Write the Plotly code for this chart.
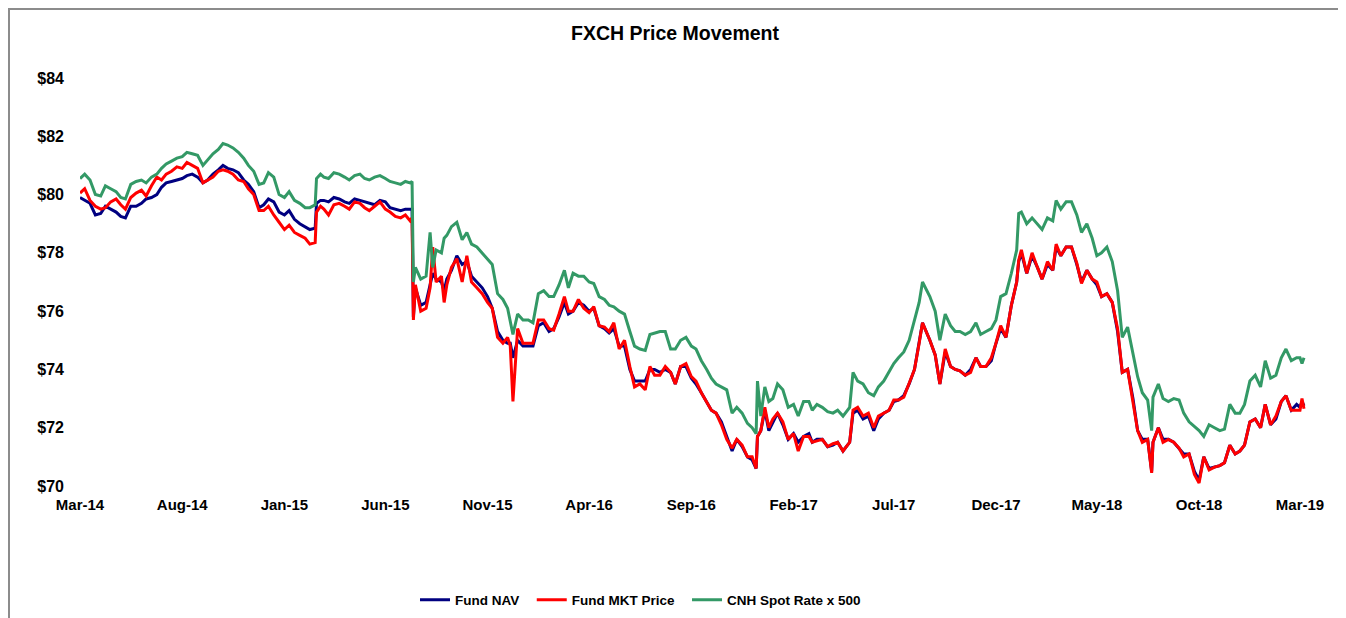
import plotly.graph_objects as go

# ---- data ----
dates = [
    "2014-03-01", "2014-03-08", "2014-03-16", "2014-03-24",
    "2014-04-01", "2014-04-08", "2014-04-16", "2014-04-24",
    "2014-05-01", "2014-05-08", "2014-05-16", "2014-05-24",
    "2014-06-01", "2014-06-08", "2014-06-16", "2014-06-24",
    "2014-07-01", "2014-07-08", "2014-07-16", "2014-07-24",
    "2014-08-01", "2014-08-08", "2014-08-16", "2014-08-24",
    "2014-09-01", "2014-09-08", "2014-09-16", "2014-09-24",
    "2014-10-01", "2014-10-08", "2014-10-16", "2014-10-24",
    "2014-11-01", "2014-11-08", "2014-11-16", "2014-11-24",
    "2014-12-01", "2014-12-08", "2014-12-16", "2014-12-24",
    "2015-01-01", "2015-01-08", "2015-01-16", "2015-01-24",
    "2015-02-01", "2015-02-08", "2015-02-16", "2015-02-18", "2015-02-24",
    "2015-03-01", "2015-03-08", "2015-03-16", "2015-03-24",
    "2015-04-01", "2015-04-08", "2015-04-16", "2015-04-24",
    "2015-05-01", "2015-05-08", "2015-05-16", "2015-05-24",
    "2015-06-01", "2015-06-08", "2015-06-16", "2015-06-24",
    "2015-07-01", "2015-07-08", "2015-07-11", "2015-07-13", "2015-07-16", "2015-07-24",
    "2015-08-01", "2015-08-07", "2015-08-11", "2015-08-16", "2015-08-24", "2015-08-28",
    "2015-09-01", "2015-09-08", "2015-09-16", "2015-09-24",
    "2015-10-01", "2015-10-08", "2015-10-16", "2015-10-24",
    "2015-11-01", "2015-11-08", "2015-11-16", "2015-11-24",
    "2015-12-01", "2015-12-05", "2015-12-09", "2015-12-16", "2015-12-24",
    "2016-01-01", "2016-01-08", "2016-01-16", "2016-01-24",
    "2016-02-01", "2016-02-08", "2016-02-16", "2016-02-24",
    "2016-03-01", "2016-03-08", "2016-03-16", "2016-03-24",
    "2016-04-01", "2016-04-08", "2016-04-16", "2016-04-24",
    "2016-05-01", "2016-05-08", "2016-05-16", "2016-05-24",
    "2016-06-01", "2016-06-08", "2016-06-16", "2016-06-24",
    "2016-07-01", "2016-07-08", "2016-07-16", "2016-07-24",
    "2016-08-01", "2016-08-08", "2016-08-16", "2016-08-24",
    "2016-09-01", "2016-09-08", "2016-09-16", "2016-09-24",
    "2016-10-01", "2016-10-08", "2016-10-16", "2016-10-24",
    "2016-11-01", "2016-11-08", "2016-11-16", "2016-11-24",
    "2016-12-01", "2016-12-07", "2016-12-09", "2016-12-14", "2016-12-20", "2016-12-26",
    "2017-01-01", "2017-01-08", "2017-01-16", "2017-01-24",
    "2017-02-01", "2017-02-08", "2017-02-16", "2017-02-24",
    "2017-03-01", "2017-03-08", "2017-03-16", "2017-03-24",
    "2017-04-01", "2017-04-08", "2017-04-16", "2017-04-26",
    "2017-05-01", "2017-05-08", "2017-05-16", "2017-05-24",
    "2017-06-01", "2017-06-08", "2017-06-16", "2017-06-24",
    "2017-07-01", "2017-07-08", "2017-07-16", "2017-07-24",
    "2017-08-01", "2017-08-08", "2017-08-13", "2017-08-24",
    "2017-09-01", "2017-09-08", "2017-09-16", "2017-09-24",
    "2017-10-01", "2017-10-08", "2017-10-16", "2017-10-24",
    "2017-11-01", "2017-11-08", "2017-11-16", "2017-11-24",
    "2017-12-01", "2017-12-08", "2017-12-16", "2017-12-24",
    "2018-01-01", "2018-01-04", "2018-01-08", "2018-01-16", "2018-01-24",
    "2018-02-01", "2018-02-08", "2018-02-16", "2018-02-24",
    "2018-03-01", "2018-03-08", "2018-03-16", "2018-03-24",
    "2018-04-01", "2018-04-08", "2018-04-16", "2018-04-24",
    "2018-05-01", "2018-05-08", "2018-05-16", "2018-05-24",
    "2018-06-01", "2018-06-08", "2018-06-16", "2018-06-24",
    "2018-07-01", "2018-07-08", "2018-07-16", "2018-07-22", "2018-07-24",
    "2018-08-01", "2018-08-08", "2018-08-16", "2018-08-24",
    "2018-09-01", "2018-09-08", "2018-09-16", "2018-09-24",
    "2018-10-01", "2018-10-08", "2018-10-16", "2018-10-24",
    "2018-11-01", "2018-11-08", "2018-11-16", "2018-11-24",
    "2018-12-01", "2018-12-08", "2018-12-16", "2018-12-24",
    "2019-01-01", "2019-01-08", "2019-01-16", "2019-01-24",
    "2019-02-01", "2019-02-08", "2019-02-16", "2019-02-24",
    "2019-03-01", "2019-03-04", "2019-03-07",
]

cnh_spot_x500 = [
    80.55, 80.7, 80.5, 80.0,
    79.95, 80.3, 80.2, 80.1,
    79.9, 79.85, 80.35, 80.45,
    80.5, 80.4, 80.6, 80.7,
    80.9, 81.05, 81.15, 81.25,
    81.3, 81.45, 81.4, 81.35,
    81.0, 81.2, 81.4, 81.55,
    81.75, 81.7, 81.6, 81.45,
    81.25, 81.0, 80.8, 80.35,
    80.4, 80.75, 80.6, 80.0,
    79.9, 80.1, 79.8, 79.7,
    79.55, 79.55, 79.65, 80.55, 80.7,
    80.6, 80.55, 80.75, 80.7,
    80.6, 80.5, 80.65, 80.7,
    80.55, 80.5, 80.6, 80.65,
    80.55, 80.45, 80.4, 80.35,
    80.45, 80.4, 80.45, 77.0, 77.5, 77.1,
    77.2, 78.7, 77.5, 78.1, 78.0, 78.5,
    78.6, 78.9, 79.05, 78.45,
    78.7, 78.3, 78.2, 78.0,
    77.8, 77.6, 76.6, 76.4,
    76.1, 75.6, 75.2, 75.9, 75.7,
    75.7, 75.6, 76.6, 76.7,
    76.5, 76.5, 76.9, 77.4,
    76.8, 77.3, 77.2, 77.2,
    77.0, 76.95, 76.5, 76.4,
    76.2, 76.15, 76.0, 75.9,
    75.3, 74.8, 74.7, 74.65,
    75.2, 75.25, 75.3, 75.3,
    74.7, 74.7, 75.0, 75.1,
    74.8, 74.7, 74.3, 74.0,
    73.7, 73.5, 73.4, 73.3,
    72.5, 72.7, 72.5, 72.15,
    72.0, 71.8, 73.6, 72.4, 73.4, 72.9,
    73.0, 73.5, 73.3, 72.7,
    72.8, 72.4, 72.9, 72.9,
    72.6, 72.8, 72.7, 72.55,
    72.5, 72.6, 72.4, 72.7,
    73.9, 73.6, 73.5, 73.2,
    73.1, 73.4, 73.6, 73.9,
    74.2, 74.4, 74.6, 75.0,
    75.7, 76.3, 77.0, 76.5,
    76.0, 75.0, 75.9, 75.5,
    75.3, 75.3, 75.2, 75.3,
    75.6, 75.2, 75.3, 75.4,
    75.7, 76.5, 76.6, 77.3,
    78.1, 79.35, 79.4, 79.0, 79.2,
    79.0, 78.8, 79.2, 79.1,
    79.8, 79.5, 79.75, 79.75,
    79.3, 78.7, 79.0, 78.5,
    77.9, 78.0, 78.2, 77.7,
    76.7, 75.1, 75.45, 74.6,
    73.75, 73.2, 72.95, 71.9, 73.05,
    73.5, 73.0, 72.9, 73.0,
    72.95, 72.5, 72.2, 72.05,
    71.9, 71.7, 72.1, 72.0,
    71.9, 71.95, 72.8, 72.5,
    72.5, 72.8, 73.6, 73.8,
    73.4, 74.3, 73.7, 73.8,
    74.4, 74.7, 74.3, 74.4,
    74.4, 74.2, 74.4,
]

fund_nav = [
    79.9, 79.8, 79.7, 79.3,
    79.35, 79.6, 79.5, 79.4,
    79.25, 79.2, 79.6, 79.6,
    79.7, 79.85, 79.9, 80.0,
    80.25, 80.4, 80.45, 80.5,
    80.55, 80.65, 80.7, 80.6,
    80.4, 80.5, 80.7, 80.85,
    81.0, 80.9, 80.85, 80.75,
    80.5, 80.35, 80.1, 79.55,
    79.65, 79.85, 79.75, 79.4,
    79.3, 79.45, 79.15, 79.0,
    78.9, 78.8, 78.85, 79.7, 79.8,
    79.8, 79.75, 79.9, 79.85,
    79.75, 79.7, 79.85, 79.8,
    79.75, 79.7, 79.65, 79.8,
    79.75, 79.55, 79.5, 79.45,
    79.5, 79.5, 79.5, 75.8, 76.8, 76.2,
    76.3, 76.9, 77.3, 77.1, 77.0, 76.7,
    77.1, 77.4, 77.9, 77.6,
    77.7, 77.2, 77.0, 76.8,
    76.5, 76.1, 75.3, 75.0,
    74.9, 74.9, 74.4, 75.0, 74.8,
    74.8, 74.8, 75.5, 75.6,
    75.3, 75.4, 75.8, 76.3,
    75.9, 76.0, 76.3, 76.2,
    76.0, 76.1, 75.5, 75.4,
    75.25, 75.4, 74.8, 74.8,
    74.0, 73.6, 73.6, 73.6,
    74.0, 74.0, 73.9, 74.0,
    73.9, 73.5, 74.1, 74.1,
    73.7, 73.5, 73.2, 72.9,
    72.6, 72.5, 72.2, 71.7,
    71.2, 71.6, 71.35, 71.0,
    70.9, 70.6, 71.7, 71.9, 72.6, 71.9,
    72.2, 72.5, 72.1, 71.6,
    71.8, 71.5, 71.7, 71.8,
    71.5, 71.6, 71.6, 71.35,
    71.4, 71.5, 71.2, 71.5,
    72.5, 72.6, 72.3, 72.4,
    71.9, 72.3, 72.5, 72.6,
    72.9, 72.95, 73.1, 73.5,
    74.0, 74.9, 75.6, 75.0,
    74.5, 73.5, 74.6, 74.1,
    74.0, 73.95, 73.8, 74.0,
    74.4, 74.1, 74.1, 74.3,
    74.9, 75.4, 75.1, 76.2,
    77.0, 77.7, 78.0, 77.3, 77.9,
    77.5, 77.1, 77.6, 77.4,
    78.2, 77.9, 78.2, 78.2,
    77.6, 77.0, 77.4, 77.1,
    76.9, 76.5, 76.6, 76.3,
    75.3, 73.9, 74.0, 73.0,
    71.9, 71.6, 71.6, 70.5, 71.5,
    72.0, 71.6, 71.6, 71.5,
    71.3, 71.1, 71.1, 70.5,
    70.2, 71.0, 70.6, 70.65,
    70.7, 70.8, 71.4, 71.1,
    71.2, 71.4, 72.2, 72.3,
    72.0, 72.8, 72.1, 72.3,
    72.9, 73.1, 72.6, 72.8,
    72.7, 72.9, 72.75,
]

fund_mkt_price = [
    80.05, 80.2, 79.8, 79.6,
    79.5, 79.55, 79.75, 79.85,
    79.65, 79.5, 79.9, 80.05,
    80.15, 79.95, 80.3, 80.6,
    80.5, 80.7, 80.8, 80.95,
    80.9, 81.1, 81.0, 80.9,
    80.4, 80.5, 80.6, 80.8,
    80.85, 80.8, 80.7, 80.5,
    80.45, 80.2, 80.0, 79.45,
    79.45, 79.6, 79.3, 79.05,
    78.8, 78.95, 78.7, 78.6,
    78.5, 78.3, 78.35, 79.4, 79.6,
    79.5, 79.3, 79.65, 79.7,
    79.6, 79.5, 79.75, 79.7,
    79.55, 79.45, 79.6, 79.75,
    79.5, 79.4, 79.25, 79.2,
    79.3, 79.1, 79.2, 75.7, 76.9, 76.0,
    76.1, 76.8, 78.2, 77.0, 77.2, 76.3,
    76.9, 77.5, 77.8, 77.0,
    77.9, 77.0, 76.8, 76.6,
    76.3, 76.1, 75.1, 74.9,
    75.1, 74.8, 72.9, 75.4, 74.9,
    74.9, 74.9, 75.7, 75.7,
    75.4, 75.35, 75.9, 76.5,
    76.0, 76.0, 76.4, 76.1,
    75.95, 76.15, 75.5, 75.45,
    75.3, 75.6, 74.7, 75.0,
    74.1, 73.4, 73.5, 73.3,
    74.1, 73.8, 73.8, 74.1,
    73.9, 73.5, 74.1, 74.2,
    73.75, 73.6, 73.2, 72.9,
    72.6, 72.5, 72.1, 71.6,
    71.3, 71.6, 71.4, 71.0,
    71.0, 70.6, 71.7, 71.9, 72.7, 72.0,
    72.3, 72.5, 72.2, 71.6,
    71.8, 71.2, 71.7, 71.7,
    71.5, 71.55, 71.6, 71.35,
    71.45, 71.5, 71.2, 71.5,
    72.6, 72.7, 72.4, 72.5,
    72.0, 72.4, 72.5, 72.6,
    72.95, 72.95, 73.05, 73.5,
    74.0, 74.9, 75.6, 75.0,
    74.5, 73.5, 74.7, 74.1,
    74.0, 73.95, 73.8, 73.9,
    74.4, 74.1, 74.1, 74.4,
    74.9, 75.5, 75.1, 76.2,
    77.0, 77.75, 78.1, 77.3, 78.0,
    77.5, 77.1, 77.7, 77.4,
    78.3, 77.9, 78.2, 78.2,
    77.65, 76.95, 77.4, 77.1,
    77.0, 76.5, 76.6, 76.3,
    75.4, 73.9, 74.0, 72.9,
    71.9, 71.5, 71.6, 70.45, 71.5,
    72.0, 71.5, 71.6, 71.5,
    71.3, 71.0, 71.1, 70.4,
    70.1, 71.0, 70.55, 70.65,
    70.7, 70.8, 71.4, 71.1,
    71.2, 71.4, 72.2, 72.3,
    72.0, 72.8, 72.1, 72.4,
    72.9, 73.1, 72.6, 72.6,
    72.6, 73.0, 72.65,
]

tick_dates = [
    "2014-03-01", "2014-08-01", "2015-01-01", "2015-06-01", "2015-11-01",
    "2016-04-01", "2016-09-01", "2017-02-01", "2017-07-01", "2017-12-01",
    "2018-05-01", "2018-10-01", "2019-03-01",
]
tick_labels = [
    "Mar-14", "Aug-14", "Jan-15", "Jun-15", "Nov-15", "Apr-16", "Sep-16",
    "Feb-17", "Jul-17", "Dec-17", "May-18", "Oct-18", "Mar-19",
]
y_ticks = [70, 72, 74, 76, 78, 80, 82, 84]
y_labels = ["$70", "$72", "$74", "$76", "$78", "$80", "$82", "$84"]

FONT = "Liberation Sans, Arial, sans-serif"
NB = "\u00a0"

# page body has an 8px margin: figure is sized/offset to compensate
W, H = 1338, 610
L, T, R, B = 72, 70, 40, 132
PW, PH = W - L - R, H - T - B

fig = go.Figure()
fig.add_trace(go.Scatter(x=dates, y=fund_nav, mode="lines", name="Fund NAV" + NB * 2,
                         line=dict(color="#000080", width=3)))
fig.add_trace(go.Scatter(x=dates, y=fund_mkt_price, mode="lines", name="Fund MKT Price" + NB * 2,
                         line=dict(color="#FF0000", width=3)))
fig.add_trace(go.Scatter(x=dates, y=cnh_spot_x500, mode="lines", name="CNH Spot Rate x 500",
                         line=dict(color="#339966", width=3)))

fig.update_layout(
    width=W, height=H,
    margin=dict(l=L, r=R, t=T, b=B, pad=0, autoexpand=False),
    paper_bgcolor="white", plot_bgcolor="white",
    font=dict(family=FONT, color="#000000"),
    title=dict(text="FXCH Price Movement", x=667 / W, xref="container", xanchor="center",
               y=1 - 25.5 / H, yref="container", yanchor="middle",
               font=dict(family=FONT, size=19.5, weight="bold", color="#000000")),
    showlegend=True,
    legend=dict(orientation="h", x=(415 - 80) / PW, xanchor="left",
                y=1 - 592 / H, yref="container", yanchor="middle",
                font=dict(family=FONT, size=13.5, weight="bold", color="#000000"),
                bgcolor="rgba(0,0,0,0)", traceorder="normal"),
    xaxis=dict(type="date", range=["2014-03-01", "2019-03-10"],
               tickvals=tick_dates, ticktext=tick_labels, automargin=False,
               showgrid=False, zeroline=False, showline=False, ticks="",
               ticklabelstandoff=8,
               tickfont=dict(family=FONT, size=15, weight="bold", color="#000000")),
    yaxis=dict(range=[70, 84], tickvals=y_ticks, ticktext=y_labels, automargin=False,
               showgrid=False, zeroline=False, showline=False, ticks="",
               ticklabelstandoff=15,
               tickfont=dict(family=FONT, size=16, weight="bold", color="#000000")),
    shapes=[dict(type="rect", xref="paper", yref="paper",
                 x0=(1 - L) / PW, x1=(1334 - L) / PW,
                 y0=(T + PH - 640) / PH, y1=(T + PH - 1) / PH,
                 line=dict(color="#8c8c8c", width=2), fillcolor="rgba(0,0,0,0)",
                 layer="below")],
)

fig.write_html("out.html")
